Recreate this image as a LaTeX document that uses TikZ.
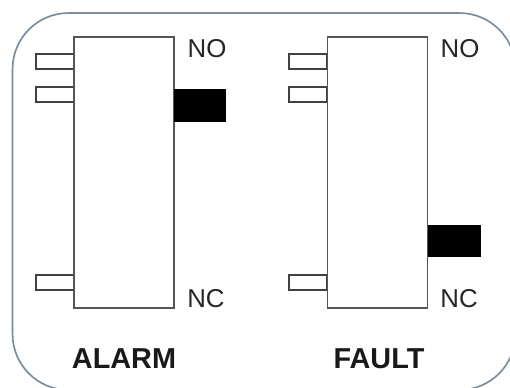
\documentclass[tikz,border=0pt]{standalone}
\usepackage{fontspec}
\setmainfont{Liberation Sans}
\definecolor{framegray}{RGB}{122,140,158}
\definecolor{boxgray}{RGB}{85,85,85}
\begin{document}
\begin{tikzpicture}[
      x=0.02cm, y=-0.02cm,
      frame/.style={draw=framegray, line width=0.95pt, rounded corners=1.12cm, minimum width=10.06cm, minimum height=7.54cm, inner sep=0pt},
      relay/.style={draw=boxgray, fill=white, line width=1pt, minimum width=2cm, minimum height=5.42cm, inner sep=0pt},
      pin/.style={draw=black!75, fill=white, line width=0.95pt, minimum width=0.76cm, minimum height=0.29cm, inner sep=0pt},
      slider/.style={fill=black, minimum width=1.05cm, minimum height=0.65cm, inner sep=0pt},
      contact/.style={font=\fontsize{14.7}{16}\selectfont, text=black!85, inner sep=0pt},
      title/.style={font=\fontsize{16.4}{18}\selectfont\bfseries, text=black!90, inner sep=0pt}
    ]
      \useasboundingbox (0,0) rectangle (510,387);
      \node[frame] (outline) at (264,201.5) {};

      \node[pin] (alarmpina) at (55,61.5) {};
      \node[pin] (alarmpinb) at (55,94.5) {};
      \node[pin] (alarmpinc) at (55,282.5) {};
      \node[relay] (alarm) at (124,172.5) {};
      \node[slider] (alarmslider) at (200,105.5) {};
      \node[contact] (alarmno) at (207,49) {NO};
      \node[contact] (alarmnc) at (206,299) {NC};
      \node[title] (alarmtitle) at (124,359) {ALARM};

      \node[pin] (faultpina) at (308,61.5) {};
      \node[pin] (faultpinb) at (308,94.5) {};
      \node[pin] (faultpinc) at (308,282.5) {};
      \node[relay] (fault) at (377.5,172.5) {};
      \node[slider] (faultslider) at (454.5,241) {};
      \node[contact] (faultno) at (460,49) {NO};
      \node[contact] (faultnc) at (459,299) {NC};
      \node[title] (faulttitle) at (379,359) {FAULT};
    \end{tikzpicture}
\end{document}
